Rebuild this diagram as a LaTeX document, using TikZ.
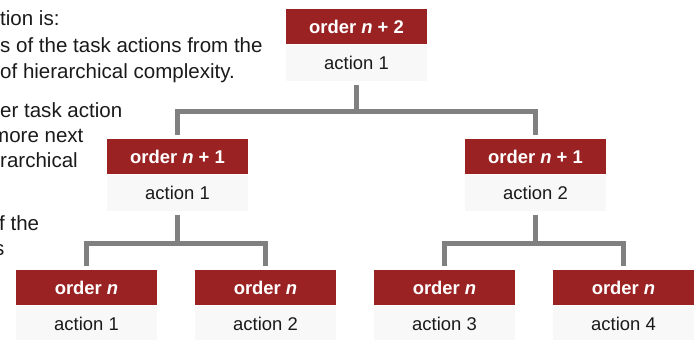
\documentclass[tikz,border=0pt]{standalone}
\usepackage{fontspec}
\setmainfont{Liberation Sans}
\definecolor{hdrred}{RGB}{154,34,35}
\definecolor{actgray}{RGB}{248,248,248}
\definecolor{conngray}{RGB}{128,128,128}
\definecolor{textdark}{RGB}{26,26,26}
\tikzset{
  hdr/.style={fill=hdrred, text=white, font=\fontsize{18.5}{22}\selectfont\bfseries,
    minimum width=141bp, minimum height=35bp, inner sep=0pt, anchor=north},
  act/.style={fill=actgray, text=textdark, font=\fontsize{18.5}{22}\selectfont,
    minimum width=141bp, minimum height=36bp, inner sep=0pt, anchor=north},
  conn/.style={draw=conngray, line width=5bp},
  lefttxt/.style={anchor=base west, inner sep=0pt, font=\fontsize{20.6}{24}\selectfont, text=textdark}
}
\begin{document}
\begin{tikzpicture}[x=1bp,y=-1bp]
\useasboundingbox (0,0) rectangle (699,339);
\clip (0,0) rectangle (699,339);
% left text fragments
\node[lefttxt] (l1) at (0,25) {tion is:};
\node[lefttxt] (l2) at (0,52) {s of the task actions from the};
\node[lefttxt] (l3) at (0,78) {of hierarchical complexity.};
\node[lefttxt] (l4) at (0,117) {er task action};
\node[lefttxt] (l5) at (-8,142) {more next};
\node[lefttxt] (l6) at (0,167) {rarchical};
\node[lefttxt] (l7) at (-1,230) {f the};
\node[lefttxt] (l8) at (-6,255) {s};
% boxes
\node[hdr] (t-h) at (356.5,9) {order \textit{n} + 2};
\node[act] (t-a) at (t-h.south) {action 1};
\node[hdr] (m1-h) at (177.5,139) {order \textit{n} + 1};
\node[act] (m1-a) at (m1-h.south) {action 1};
\node[hdr] (m2-h) at (535.5,139) {order \textit{n} + 1};
\node[act] (m2-a) at (m2-h.south) {action 2};
\node[hdr] (b1-h) at (86.5,270) {order \textit{n}};
\node[act] (b1-a) at (b1-h.south) {action 1};
\node[hdr] (b2-h) at (265.5,270) {order \textit{n}};
\node[act] (b2-a) at (b2-h.south) {action 2};
\node[hdr] (b3-h) at (444.5,270) {order \textit{n}};
\node[act] (b3-a) at (b3-h.south) {action 3};
\node[hdr] (b4-h) at (623.5,270) {order \textit{n}};
\node[act] (b4-a) at (b4-h.south) {action 4};
% junctions
\coordinate (j1) at (356.5,111);
\coordinate (j2) at (177.5,243);
\coordinate (j3) at (535.5,243);
% connectors
\draw[conn] ([yshift=-4bp]t-a.south) -- (j1);
\draw[conn] ([yshift=4bp]m1-h.north) |- (j1) -| ([yshift=4bp]m2-h.north);
\draw[conn] ([yshift=-4bp]m1-a.south) -- (j2);
\draw[conn] ([yshift=4bp]b1-h.north) |- (j2) -| ([yshift=4bp]b2-h.north);
\draw[conn] ([yshift=-4bp]m2-a.south) -- (j3);
\draw[conn] ([yshift=4bp]b3-h.north) |- (j3) -| ([yshift=4bp]b4-h.north);
\end{tikzpicture}
\end{document}
